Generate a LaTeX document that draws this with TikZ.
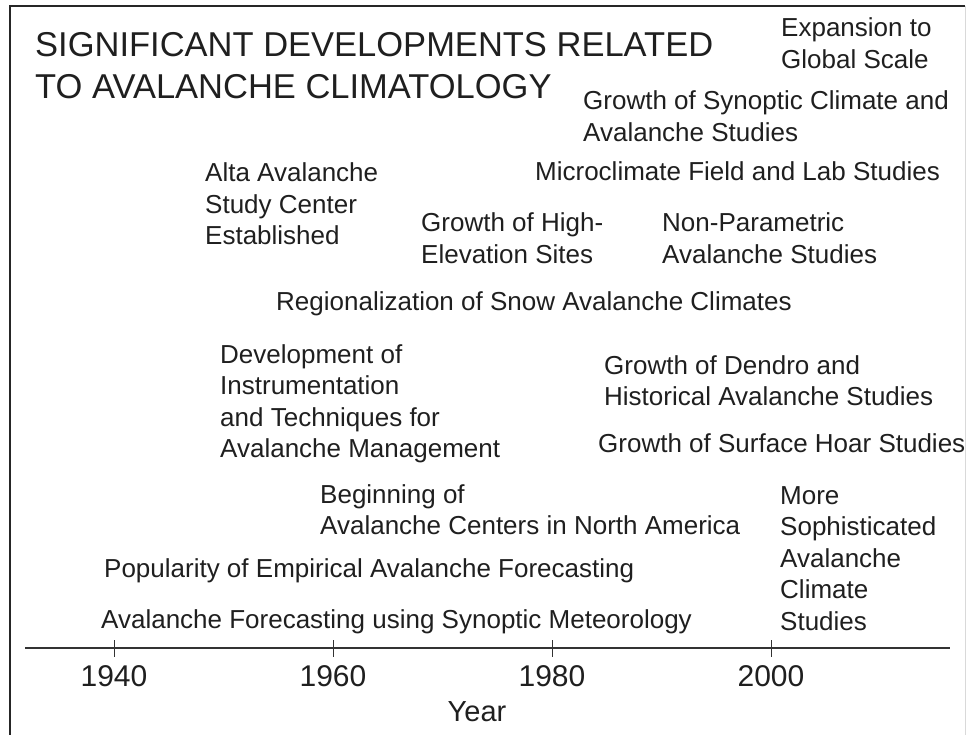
\documentclass[tikz,border=0pt]{standalone}
\usepackage{fontspec}
\setmainfont{Liberation Sans}
\begin{document}
\begin{tikzpicture}[x=1pt,y=-1pt,
  txt/.style={anchor=base west,inner sep=0pt,align=left,text=black!88,
    font=\fontsize{26}{31.5}\selectfont},
  ttl/.style={anchor=base west,inner sep=0pt,align=left,text=black!88,
    font=\fontsize{34.5}{42}\selectfont},
  yr/.style={anchor=base,inner sep=0pt,text=black!88,font=\fontsize{30}{36}\selectfont},
  frame/.style={line width=1.6pt,draw=black!85},
  axisline/.style={line width=1.8pt,draw=black!80},
  tick/.style={line width=0.8pt,draw=black!80}]
\useasboundingbox (0,0) rectangle (967,735);
% frame
\coordinate (fbl) at (10,735);
\coordinate (ftl) at (10,6);
\coordinate (ftr) at (965,6);
\coordinate (fbr) at (965,735);
\draw[frame] (fbl) -- (ftl) -- (ftr);
\draw[line width=0.8pt,draw=black!15] (ftr) -- (fbr);
% title (anchor = baseline of last line)
\node[ttl] (title) at (35,99) {SIGNIFICANT DEVELOPMENTS RELATED\\TO AVALANCHE CLIMATOLOGY};
% items (anchor = baseline of last line)
\node[txt] (exp) at (781,68.5) {Expansion to\\Global Scale};
\node[txt] (syn) at (583,141.5) {Growth of Synoptic Climate and\\Avalanche Studies};
\node[txt] (micro) at (535,181) {Microclimate Field and Lab Studies};
\node[txt] (alta) at (205,245) {Alta Avalanche\\Study Center\\Established};
\node[txt] (high) at (421,263.5) {Growth of High-\\Elevation Sites};
\node[txt] (nonp) at (662,263.5) {Non-Parametric\\Avalanche Studies};
\node[txt] (reg) at (276,311) {Regionalization of Snow Avalanche Climates};
\node[txt] (dev) at (220,457.5) {Development of\\Instrumentation\\and Techniques for\\Avalanche Management};
\node[txt] (dendro) at (604,405.5) {Growth of Dendro and\\Historical Avalanche Studies};
\node[txt] (hoar) at (598,452) {Growth of Surface Hoar Studies};
\node[txt] (begin) at (320,534.5) {Beginning of\\Avalanche Centers in North America};
\node[txt] (more) at (780,630) {More\\Sophisticated\\Avalanche\\Climate\\Studies};
\node[txt] (pop) at (104,577) {Popularity of Empirical Avalanche Forecasting};
\node[txt] (fore) at (101,628) {Avalanche Forecasting using Synoptic Meteorology};
% axis
\coordinate (axl) at (25,648);
\coordinate (axr) at (950,648);
\draw[axisline] (axl) -- (axr);
\foreach \yv/\xv in {1940/114,1960/333,1980/552,2000/771}{
  \coordinate (t\yv a) at (\xv,640);
  \coordinate (t\yv b) at (\xv,657);
  \draw[tick] (t\yv a) -- (t\yv b);
  \node[yr] (l\yv) at (\xv,686) {\yv};
}
\node[yr,font=\fontsize{29}{35}\selectfont] (year) at (477,721) {Year};
\end{tikzpicture}
\end{document}
